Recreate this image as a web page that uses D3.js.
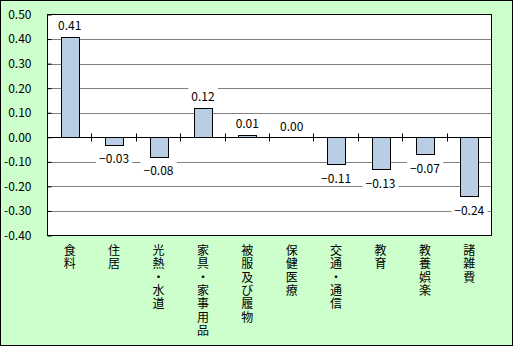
<!DOCTYPE html>
<html>
<head>
<meta charset="utf-8">
<script src="https://cdn.jsdelivr.net/npm/d3@7"></script>
<style>
  html, body { margin: 0; padding: 0; background: #fff; }
  svg { display: block; }
  text { font-family: "Noto Sans CJK JP", "Noto Sans", sans-serif; font-size: 12px; fill: #000; }
</style>
</head>
<body>
<svg id="chart" width="513" height="346"></svg>
<script>
// ---- data ----
const categories = ["食料", "住居", "光熱・水道", "家具・家事用品", "被服及び履物", "保健医療", "交通・通信", "教育", "教養娯楽", "諸雑費"];
const values = [0.41, -0.03, -0.08, 0.12, 0.01, 0.00, -0.11, -0.13, -0.07, -0.24];
const yTicks = [0.5, 0.4, 0.3, 0.2, 0.1, 0.0, -0.1, -0.2, -0.3, -0.4];

// ---- layout ----
const W = 513, H = 346;
const plot = { left: 47.5, right: 491.5, top: 14.5, bottom: 235.5 };

const svg = d3.select("#chart");

svg.append("rect")
  .attr("x", 0.5).attr("y", 0.5).attr("width", W - 1).attr("height", H - 1)
  .attr("fill", "#CCFFCC").attr("stroke", "#000").attr("stroke-width", 1);

svg.append("rect")
  .attr("x", plot.left).attr("y", plot.top)
  .attr("width", plot.right - plot.left).attr("height", plot.bottom - plot.top)
  .attr("fill", "#fff");

const x = d3.scaleBand().domain(categories).range([plot.left, plot.right])
  .paddingInner(0.6).paddingOuter(0.3);
const y = d3.scaleLinear().domain([-0.4, 0.5]).range([plot.bottom, plot.top]);

// gridlines
svg.append("g").selectAll("line")
  .data(yTicks.filter(t => Math.abs(t) > 1e-9 && t < 0.5 && t > -0.4))
  .join("line")
  .attr("x1", plot.left).attr("x2", plot.right)
  .attr("y1", d => Math.round(y(d)) + 0.5).attr("y2", d => Math.round(y(d)) + 0.5)
  .attr("stroke", "#808080").attr("stroke-width", 1);

// bars
const y0 = Math.round(y(0)) + 0.5;
svg.append("g").selectAll("rect")
  .data(values)
  .join("rect")
  .attr("x", (d, i) => Math.round(x(categories[i])) + 0.5)
  .attr("width", Math.round(x.bandwidth()))
  .attr("y", d => d >= 0 ? Math.round(y(d)) + 0.5 : y0)
  .attr("height", d => Math.abs(Math.round(y(d)) + 0.5 - y0))
  .attr("fill", "#B9CDE5").attr("stroke", "#000").attr("stroke-width", 1);

// zero line
svg.append("line")
  .attr("x1", plot.left).attr("x2", plot.right)
  .attr("y1", y0).attr("y2", y0)
  .attr("stroke", "#000").attr("stroke-width", 1);

// category boundary ticks crossing the zero line
const bounds = d3.range(categories.length + 1).map(i => plot.left + i * (plot.right - plot.left) / categories.length);
svg.append("g").selectAll("line")
  .data(bounds)
  .join("line")
  .attr("x1", d => Math.round(d - 0.5) + 0.5).attr("x2", d => Math.round(d - 0.5) + 0.5)
  .attr("y1", y0 - 4).attr("y2", y0 + 4)
  .attr("stroke", "#000").attr("stroke-width", 1);

// y axis (inside ticks + labels)
const axisLocale = d3.formatLocale({ decimal: ".", thousands: ",", grouping: [3], currency: ["", ""], minus: "-" });
const yFmt = axisLocale.format(".2f");
const yAxis = d3.axisLeft(y).tickValues(yTicks).tickSize(-4).tickPadding(16).tickFormat(yFmt);
const yg = svg.append("g").attr("transform", `translate(${plot.left},0)`).call(yAxis);
yg.select(".domain").remove();
yg.selectAll(".tick line").attr("stroke", "#000");
yg.selectAll(".tick text")
  .style("font-family", '"Noto Sans CJK JP", sans-serif').style("font-size", "12px").attr("fill", "#000");

// plot border
svg.append("rect")
  .attr("x", plot.left).attr("y", plot.top)
  .attr("width", plot.right - plot.left).attr("height", plot.bottom - plot.top)
  .attr("fill", "none").attr("stroke", "#000").attr("stroke-width", 1);

// value labels with white background
const vFmt = d3.format(".2f");
const lg = svg.append("g");
values.forEach((v, i) => {
  const cx = x(categories[i]) + x.bandwidth() / 2;
  const cy = v >= 0 ? y(v) - 12 : y(v) + 13;
  const g = lg.append("g");
  const rect = g.append("rect").attr("fill", "#fff");
  const t = g.append("text")
    .attr("x", cx).attr("y", cy)
    .attr("text-anchor", "middle").attr("dominant-baseline", "central")
    .text(vFmt(v));
  const bb = t.node().getBBox();
  rect.attr("x", bb.x - 3).attr("y", bb.y).attr("width", bb.width + 6).attr("height", bb.height);
});

// vertical category labels (one character per line)
const cg = svg.append("g");
categories.forEach((c, i) => {
  const cx = x(c) + x.bandwidth() / 2;
  const t = cg.append("text").attr("text-anchor", "middle");
  Array.from(c).forEach((ch, j) => {
    t.append("tspan").attr("x", cx).attr("y", 255 + j * 13.3).text(ch);
  });
});
</script>
</body>
</html>
